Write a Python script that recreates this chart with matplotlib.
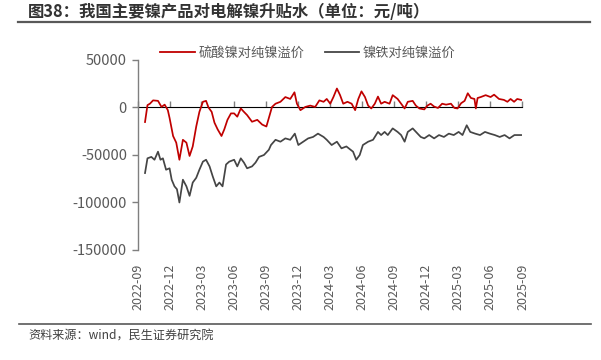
import numpy as np
import pandas as pd
import matplotlib
matplotlib.use("Agg")
import matplotlib.pyplot as plt
import matplotlib.dates as mdates
from matplotlib.lines import Line2D

plt.rcParams['font.family'] = ['Noto Sans CJK SC', 'DejaVu Sans']

# 硫酸镍对纯镍溢价 (元/吨)
red_dates = [
    "2022-09-21", "2022-09-28", "2022-10-05", "2022-10-14", "2022-10-28", "2022-11-07",
    "2022-11-16", "2022-11-25", "2022-11-30", "2022-12-10", "2022-12-19", "2022-12-28",
    "2023-01-07", "2023-01-17", "2023-01-26", "2023-02-04", "2023-02-14", "2023-02-23",
    "2023-03-05", "2023-03-14", "2023-03-21", "2023-03-30", "2023-04-07", "2023-04-16",
    "2023-04-27", "2023-05-05", "2023-05-14", "2023-05-24", "2023-06-02", "2023-06-11",
    "2023-06-21", "2023-06-30", "2023-07-09", "2023-07-23", "2023-08-07", "2023-08-21",
    "2023-09-02", "2023-09-09", "2023-09-18", "2023-09-28", "2023-10-12", "2023-10-26",
    "2023-11-09", "2023-11-21", "2023-11-28", "2023-12-08", "2023-12-22", "2024-01-05",
    "2024-01-19", "2024-01-31", "2024-02-12", "2024-02-21", "2024-03-02", "2024-03-11",
    "2024-03-21", "2024-03-30", "2024-04-08", "2024-04-20", "2024-05-02", "2024-05-12",
    "2024-05-21", "2024-05-30", "2024-06-09", "2024-06-18", "2024-06-27", "2024-07-07",
    "2024-07-16", "2024-07-25", "2024-08-04", "2024-08-18", "2024-08-27", "2024-09-10",
    "2024-09-20", "2024-09-30", "2024-10-09", "2024-10-23", "2024-11-01", "2024-11-11",
    "2024-11-25", "2024-12-04", "2024-12-13", "2024-12-23", "2025-01-03", "2025-01-15",
    "2025-01-26", "2025-02-09", "2025-02-19", "2025-02-28", "2025-03-10", "2025-03-20",
    "2025-03-29", "2025-04-07", "2025-04-17", "2025-04-21", "2025-04-26", "2025-05-05",
    "2025-05-19", "2025-06-02", "2025-06-12", "2025-06-26", "2025-07-10", "2025-07-20",
    "2025-07-29", "2025-08-08", "2025-08-17", "2025-08-28",
]
red_values = [
    -15300, 2500, 4000, 7500, 7000, 600,
    3000, -2800, -11000, -30000, -37000, -55000,
    -34000, -37000, -51000, -41000, -20000, -4600,
    6000, 7000, 0, -4600, -16000, -23000,
    -30000, -23000, -13000, -6200, -6200, -9700,
    -1000, -4600, -8000, -15000, -13000, -18000,
    -20000, -11000, 600, 4000, 6000, 11000,
    9000, 16000, 4000, -2800, 600, 2000,
    600, 7500, 6000, 9000, 4000, 11000,
    20000, 13000, 4000, 6000, 4000, -2800,
    9000, 17000, 11000, 2000, -1000, 4000,
    11500, 4000, 6000, 4000, 13000, 9000,
    4000, -1000, 6000, 7000, 2000, -1000,
    -2000, 2000, 4000, 1000, -500, 4000,
    3000, 4000, -500, -1000, 4500, 7000,
    15000, 10000, 9000, -1000, 10000, 11000,
    13000, 11000, 13500, 9000, 8000, 6000,
    9000, 6000, 9000, 8000,
]

# 镍铁对纯镍溢价 (元/吨)
gray_dates = [
    "2022-09-21", "2022-09-28", "2022-10-09", "2022-10-18", "2022-10-28", "2022-11-04",
    "2022-11-11", "2022-11-20", "2022-11-30", "2022-12-06", "2022-12-14", "2022-12-21",
    "2022-12-28", "2023-01-07", "2023-01-17", "2023-01-26", "2023-02-04", "2023-02-14",
    "2023-02-23", "2023-03-05", "2023-03-14", "2023-03-24", "2023-04-02", "2023-04-12",
    "2023-04-21", "2023-04-30", "2023-05-10", "2023-05-19", "2023-06-02", "2023-06-11",
    "2023-06-21", "2023-06-30", "2023-07-09", "2023-07-23", "2023-08-02", "2023-08-12",
    "2023-08-26", "2023-09-09", "2023-09-15", "2023-09-28", "2023-10-12", "2023-10-26",
    "2023-11-09", "2023-11-22", "2023-12-02", "2023-12-16", "2023-12-30", "2024-01-13",
    "2024-01-27", "2024-02-12", "2024-02-21", "2024-03-06", "2024-03-21", "2024-04-03",
    "2024-04-17", "2024-04-29", "2024-05-06", "2024-05-15", "2024-05-25", "2024-06-03",
    "2024-06-18", "2024-07-02", "2024-07-16", "2024-07-25", "2024-08-04", "2024-08-13",
    "2024-08-27", "2024-09-10", "2024-09-20", "2024-09-30", "2024-10-09", "2024-10-23",
    "2024-11-06", "2024-11-15", "2024-11-25", "2024-12-09", "2024-12-23", "2025-01-06",
    "2025-01-20", "2025-02-03", "2025-02-17", "2025-03-03", "2025-03-14", "2025-03-26",
    "2025-04-05", "2025-04-19", "2025-05-03", "2025-05-17", "2025-05-31", "2025-06-14",
    "2025-06-28", "2025-07-12", "2025-07-26", "2025-08-09", "2025-08-28",
]
gray_values = [
    -69000, -53500, -52000, -55000, -46500, -55000,
    -53500, -65500, -64000, -76000, -83000, -86000,
    -100000, -76000, -83000, -93000, -79000, -74000,
    -65500, -57000, -55000, -62000, -72500, -83000,
    -79000, -83000, -60000, -57000, -55000, -62000,
    -53500, -58000, -64000, -62000, -58000, -52000,
    -50000, -44500, -39500, -34000, -36000, -32500,
    -34000, -27500, -39500, -36000, -32500, -31000,
    -27500, -31000, -34000, -39500, -36000, -43000,
    -41000, -44500, -46500, -55000, -50000, -39500,
    -36000, -34000, -25700, -29000, -25700, -29000,
    -22000, -25700, -29000, -36000, -25700, -22000,
    -27500, -31000, -32500, -29000, -32500, -29000,
    -31000, -27500, -29000, -25700, -29000, -18700,
    -25700, -27500, -29000, -25700, -27500, -29000,
    -31000, -29000, -32500, -29000, -29000,
]

tick_months = pd.date_range("2022-09-01", "2025-09-01", freq="3MS")
y_ticks = [50000, 0, -50000, -100000, -150000]

title = "图38：我国主要镍产品对电解镍升贴水（单位：元/吨）"
source = "资料来源：wind，民生证券研究院"
red_name = "硫酸镍对纯镍溢价"
gray_name = "镍铁对纯镍溢价"

red_c = "#C00000"
gray_c = "#454545"
txt_c = "#595959"
axis_c = "#7f7f7f"

fig = plt.figure(figsize=(6.01, 3.6), dpi=100)
ax = fig.add_axes([138 / 601, 1 - 250 / 360, (522.5 - 138) / 601, 190 / 360])

ax.plot(pd.to_datetime(red_dates), red_values, color=red_c, lw=1.25)
ax.plot(pd.to_datetime(gray_dates), gray_values, color=gray_c, lw=1.25)

ymin, ymax = -150000, 50000
ax.set_ylim(ymin, ymax)
ax.set_xlim(tick_months[0], tick_months[-1])
ax.set_yticks(y_ticks)
ax.set_yticklabels([str(v) for v in y_ticks], color=txt_c, fontsize=10.5)
ax.tick_params(axis='y', length=4, color=axis_c, width=1, pad=4)

ax.set_xticks(tick_months)
ax.set_xticklabels([d.strftime("%Y-%m") for d in tick_months], rotation=90,
                   color=txt_c, fontsize=9)
ax.tick_params(axis='x', length=0, pad=10)

for side in ['top', 'right', 'bottom']:
    ax.spines[side].set_visible(False)
ax.spines['left'].set_color(axis_c)
ax.spines['left'].set_linewidth(1)

# axis line at zero with quarterly tick marks
zero_frac = (0 - ymin) / (ymax - ymin)
sec = ax.secondary_xaxis(zero_frac)
sec.set_xticks(tick_months)
sec.set_xticklabels([])
sec.tick_params(axis='x', length=4, color=axis_c, width=1, direction='out')
sec.spines['bottom'].set_color(axis_c)
sec.spines['bottom'].set_linewidth(1)
ax.patch.set_alpha(0)

handles = [Line2D([], [], color=red_c, lw=1.3), Line2D([], [], color=gray_c, lw=1.3)]
leg = fig.legend(handles, [red_name, gray_name], loc='center', bbox_to_anchor=(308 / 601, 1 - 53 / 360),
                 ncol=2, frameon=False, fontsize=9.5, handlelength=2.6, handletextpad=0.3,
                 columnspacing=1.5)
for t in leg.get_texts():
    t.set_color(txt_c)

fig.text(28 / 601, 1 - 12 / 360, title, fontsize=11.8, fontweight='bold', color="#333333",
         va='center', ha='left')
fig.add_artist(Line2D([18 / 601, 590 / 601], [1 - 21.5 / 360] * 2, color="#595959", lw=1.6))
fig.add_artist(Line2D([19 / 601, 591 / 601], [1 - 324 / 360] * 2, color="#595959", lw=1.2))
fig.text(28 / 601, 1 - 336 / 360, source, fontsize=8.7, color="#404040", va='center', ha='left')

fig.savefig("out.png", dpi=100)
